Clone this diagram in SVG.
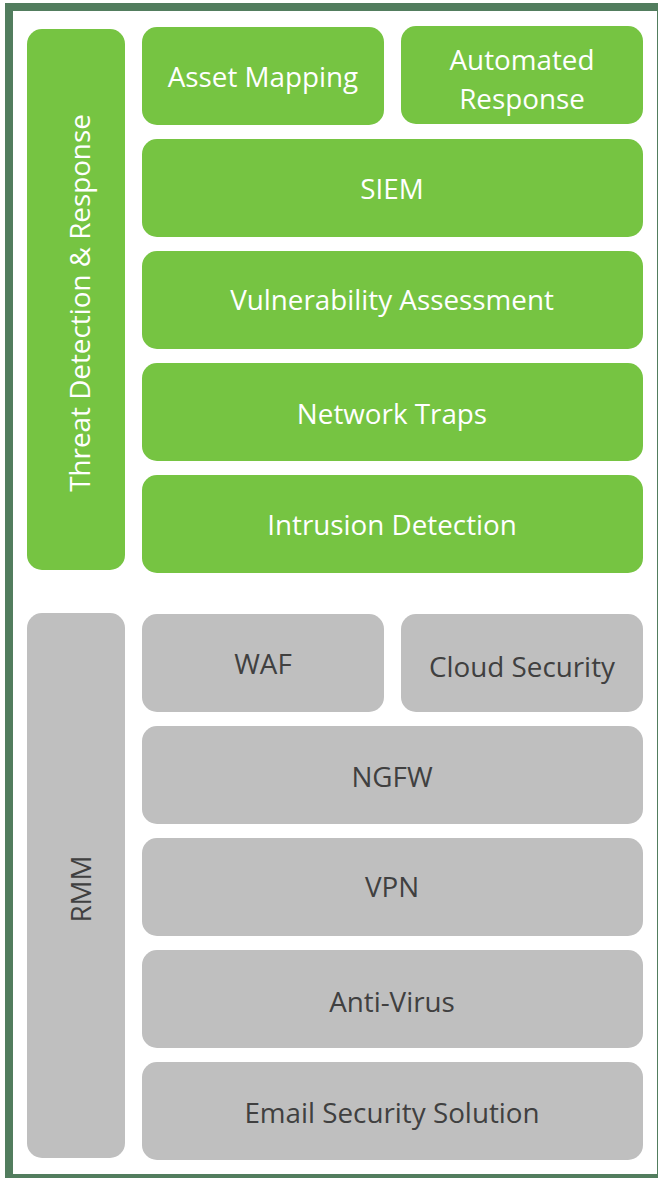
<svg xmlns="http://www.w3.org/2000/svg" width="658" height="1178" viewBox="0 0 658 1178">
<style>
.g{fill:#76C442}
.s{fill:#BFBFBF}
.tw{fill:#FFFFFF;font-family:"Open Sans",Lato,sans-serif;font-size:27.8px;text-anchor:middle}
.tg{fill:#404040;font-family:"Open Sans",Lato,sans-serif;font-size:27.8px;text-anchor:middle}
</style>
<rect x="0" y="0" width="658" height="1178" fill="#FFFFFF"/>
<rect id="frame" x="9" y="7" width="652" height="1171" fill="none" stroke="#527D5E" stroke-width="8"/>
<g id="threat-detection">
<rect class="g" x="27" y="29" width="98" height="541" rx="15"/>
<text class="tw" transform="translate(90,303) rotate(-90)">Threat Detection &amp; Response</text>
</g>
<g id="asset-mapping">
<rect class="g" x="142" y="27" width="242" height="98" rx="15"/>
<text class="tw" x="263" y="87">Asset Mapping</text>
</g>
<g id="automated-response">
<rect class="g" x="401" y="26" width="242" height="98" rx="15"/>
<text class="tw" x="522" y="70">Automated</text>
<text class="tw" x="522" y="109">Response</text>
</g>
<g id="siem">
<rect class="g" x="142" y="139" width="501" height="98" rx="15"/>
<text class="tw" x="392" y="199">SIEM</text>
</g>
<g id="vulnerability-assessment">
<rect class="g" x="142" y="251" width="501" height="98" rx="15"/>
<text class="tw" x="392" y="310">Vulnerability Assessment</text>
</g>
<g id="network-traps">
<rect class="g" x="142" y="363" width="501" height="98" rx="15"/>
<text class="tw" x="392" y="424">Network Traps</text>
</g>
<g id="intrusion-detection">
<rect class="g" x="142" y="475" width="501" height="98" rx="15"/>
<text class="tw" x="392" y="535">Intrusion Detection</text>
</g>
<g id="rmm">
<rect class="s" x="27" y="613" width="98" height="545" rx="15"/>
<text class="tg" transform="translate(91,889) rotate(-90)">RMM</text>
</g>
<g id="waf">
<rect class="s" x="142" y="614" width="242" height="98" rx="15"/>
<text class="tg" x="263" y="674">WAF</text>
</g>
<g id="cloud-security">
<rect class="s" x="401" y="614" width="242" height="98" rx="15"/>
<text class="tg" x="522" y="677">Cloud Security</text>
</g>
<g id="ngfw">
<rect class="s" x="142" y="726" width="501" height="98" rx="15"/>
<text class="tg" x="392" y="787">NGFW</text>
</g>
<g id="vpn">
<rect class="s" x="142" y="838" width="501" height="98" rx="15"/>
<text class="tg" x="392" y="897">VPN</text>
</g>
<g id="anti-virus">
<rect class="s" x="142" y="950" width="501" height="98" rx="15"/>
<text class="tg" x="392" y="1012">Anti-Virus</text>
</g>
<g id="email-security">
<rect class="s" x="142" y="1062" width="501" height="98" rx="15"/>
<text class="tg" x="392" y="1123">Email Security Solution</text>
</g>
<g id="connectors"></g>
</svg>
